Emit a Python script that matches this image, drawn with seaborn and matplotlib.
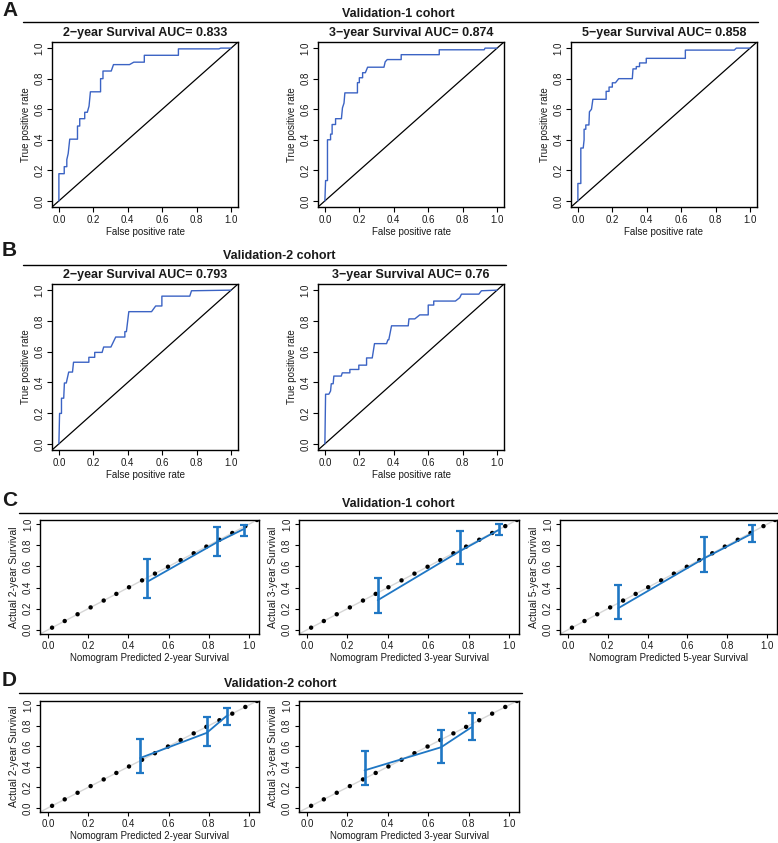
import matplotlib
matplotlib.use("Agg")
import matplotlib.pyplot as plt
from matplotlib.lines import Line2D
import numpy as np
import seaborn as sns

sns.set_theme(style="ticks")
plt.rcParams['font.family'] = ['Liberation Sans', 'DejaVu Sans']

# ---------------- data ----------------
tick_vals = [0.0, 0.2, 0.4, 0.6, 0.8, 1.0]
tick_labels = ["0.0", "0.2", "0.4", "0.6", "0.8", "1.0"]

# ROC curves, Validation-1
a1_fpr = [0, 0, 0.031, 0.031, 0.046, 0.046, 0.054, 0.063, 0.108, 0.108, 0.121, 0.121, 0.15, 0.15, 0.165, 0.175,
          0.183, 0.242, 0.242, 0.256, 0.256, 0.304, 0.317, 0.41, 0.435, 0.496, 0.496, 0.694, 0.694, 0.929, 0.94, 1.0]
a1_tpr = [0, 0.178, 0.178, 0.224, 0.224, 0.27, 0.31, 0.404, 0.404, 0.49, 0.49, 0.538, 0.538, 0.58, 0.58, 0.62,
          0.714, 0.714, 0.80, 0.80, 0.85, 0.85, 0.892, 0.892, 0.908, 0.908, 0.953, 0.953, 0.995, 0.995, 1.0, 1.0]

a2_fpr = [0, 0.004, 0.015, 0.015, 0.033, 0.033, 0.042, 0.042, 0.062, 0.062, 0.096, 0.102, 0.111, 0.116, 0.189, 0.189,
          0.2, 0.2, 0.219, 0.219, 0.235, 0.248, 0.343, 0.35, 0.362, 0.443, 0.443, 0.664, 0.664, 0.925, 0.93, 1.0]
a2_tpr = [0, 0.133, 0.133, 0.40, 0.40, 0.437, 0.437, 0.50, 0.50, 0.538, 0.538, 0.609, 0.64, 0.707, 0.707, 0.774,
          0.774, 0.806, 0.806, 0.839, 0.839, 0.875, 0.875, 0.91, 0.925, 0.925, 0.957, 0.957, 0.989, 0.989, 1.0, 1.0]

a3_fpr = [0, 0, 0.017, 0.017, 0.031, 0.036, 0.036, 0.046, 0.046, 0.064, 0.067, 0.079, 0.087, 0.164, 0.164, 0.181,
          0.181, 0.2, 0.2, 0.218, 0.237, 0.316, 0.32, 0.339, 0.339, 0.358, 0.358, 0.397, 0.397, 0.624, 0.624,
          0.908, 0.92, 1.0]
a3_tpr = [0, 0.114, 0.114, 0.346, 0.346, 0.40, 0.469, 0.469, 0.497, 0.497, 0.583, 0.60, 0.665, 0.665, 0.717, 0.717,
          0.745, 0.745, 0.773, 0.773, 0.80, 0.80, 0.864, 0.864, 0.879, 0.879, 0.903, 0.903, 0.933, 0.933, 0.987,
          0.987, 1.0, 1.0]

# ROC curves, Validation-2
b1_fpr = [0, 0.004, 0.015, 0.015, 0.028, 0.032, 0.043, 0.047, 0.057, 0.079, 0.085, 0.174, 0.174, 0.208, 0.208,
          0.251, 0.26, 0.302, 0.33, 0.383, 0.383, 0.392, 0.406, 0.538, 0.562, 0.598, 0.598, 0.76, 0.77, 1.0]
b1_tpr = [0, 0.198, 0.198, 0.297, 0.297, 0.396, 0.396, 0.417, 0.467, 0.467, 0.531, 0.531, 0.563, 0.563, 0.595,
          0.595, 0.63, 0.63, 0.695, 0.695, 0.73, 0.73, 0.86, 0.86, 0.897, 0.897, 0.961, 0.961, 0.996, 1.0]

b2_fpr = [0, 0.004, 0.023, 0.033, 0.037, 0.048, 0.052, 0.095, 0.101, 0.145, 0.145, 0.197, 0.197, 0.242, 0.242,
          0.275, 0.288, 0.358, 0.366, 0.371, 0.387, 0.484, 0.488, 0.522, 0.551, 0.60, 0.60, 0.632, 0.632, 0.758,
          0.783, 0.793, 0.894, 0.909, 1.0]
b2_tpr = [0, 0.323, 0.323, 0.344, 0.391, 0.391, 0.441, 0.441, 0.462, 0.462, 0.484, 0.484, 0.512, 0.512, 0.559,
          0.559, 0.652, 0.652, 0.677, 0.677, 0.768, 0.768, 0.813, 0.813, 0.839, 0.839, 0.903, 0.903, 0.929, 0.929,
          0.951, 0.974, 0.974, 0.996, 1.0]

# Calibration: reference dots on the ideal line
cal_dots = [0.02, 0.083, 0.147, 0.212, 0.277, 0.34, 0.403, 0.468, 0.532, 0.597, 0.66, 0.725, 0.788, 0.853,
            0.917, 0.982, 1.04]

# Calibration, Validation-1
c1_pred = [0.494, 0.842, 0.975]
c1_obs = [0.455, 0.83, 0.955]
c1_lo = [0.30, 0.70, 0.89]
c1_hi = [0.67, 0.975, 0.995]

c2_pred = [0.35, 0.757, 0.949]
c2_obs = [0.28, 0.745, 0.945]
c2_lo = [0.16, 0.62, 0.90]
c2_hi = [0.495, 0.935, 1.0]

c3_pred = [0.253, 0.682, 0.923]
c3_obs = [0.205, 0.675, 0.91]
c3_lo = [0.105, 0.545, 0.835]
c3_hi = [0.425, 0.88, 0.995]

# Calibration, Validation-2
d1_pred = [0.458, 0.79, 0.889]
d1_obs = [0.485, 0.73, 0.895]
d1_lo = [0.34, 0.60, 0.81]
d1_hi = [0.675, 0.88, 0.975]

d2_pred = [0.285, 0.664, 0.815]
d2_obs = [0.365, 0.59, 0.785]
d2_lo = [0.225, 0.44, 0.66]
d2_hi = [0.55, 0.76, 0.92]

# ---------------- styling ----------------
W, H = 778, 843
ROC_BLUE = "#3b63c4"
CAL_BLUE = "#1f77c4"
TXT = "#1a1a1a"

fig = plt.figure(figsize=(W / 100, H / 100), dpi=100)
fig.patch.set_facecolor("white")


def rect(l, t, r, b):
    return [l / W, 1 - b / H, (r - l) / W, (b - t) / H]


def frame(ax, xlim, ylim, tlen):
    ax.set_xlim(xlim)
    ax.set_ylim(ylim)
    ax.set_xticks(tick_vals)
    ax.set_xticklabels(tick_labels)
    ax.set_yticks(tick_vals)
    ax.set_yticklabels(tick_labels, rotation=90, va='center')
    for s in ax.spines.values():
        s.set_visible(True)
        s.set_linewidth(1.0)
        s.set_color('black')
    ax.tick_params(direction='out', length=tlen, width=0.8, labelsize=7, pad=2,
                   colors='black', labelcolor=TXT)
    ax.grid(False)
    ax.set_facecolor('white')


def header(letter, ly, text, tx, ty, x0, x1, yl):
    fig.text(2 / W, 1 - ly / H, letter, fontsize=15, fontweight='bold', ha='left', va='center', color=TXT)
    fig.text(tx / W, 1 - ty / H, text, fontsize=9, fontweight='bold', ha='center', va='center', color=TXT)
    fig.add_artist(Line2D([x0 / W, x1 / W], [1 - yl / H, 1 - yl / H], color='black', lw=1.0))


def roc_panel(r, title, fpr, tpr):
    ax = fig.add_axes(rect(*r))
    ax.axline((0, 0), (1, 1), color='black', lw=0.9, zorder=2)
    sns.lineplot(x=fpr, y=tpr, sort=False, estimator=None, color=ROC_BLUE, lw=1.0, ax=ax, zorder=3)
    frame(ax, (-0.04, 1.04), (-0.04, 1.04), 3.5)
    ax.set_title(title, fontsize=9, fontweight='bold', pad=4, color=TXT)
    ax.set_xlabel("False positive rate", fontsize=7, labelpad=2, color=TXT)
    ax.set_ylabel("True positive rate", fontsize=7, labelpad=2.5, color=TXT)
    return ax


def cal_panel(r, year, pred, obs, lo, hi):
    ax = fig.add_axes(rect(*r))
    ax.axline((0, 0), (1, 1), color='#d6d6d6', lw=1.0, zorder=1)
    sns.scatterplot(x=cal_dots, y=cal_dots, color='black', s=10, edgecolor='none', ax=ax, zorder=3)
    sns.lineplot(x=pred, y=obs, sort=False, estimator=None, color=CAL_BLUE, lw=1.3, ax=ax, zorder=4)
    p = np.array(pred)
    o = np.array(obs)
    ax.errorbar(p, o, yerr=[o - np.array(lo), np.array(hi) - o], fmt='none', ecolor=CAL_BLUE,
                elinewidth=1.9, capsize=2.6, capthick=1.6, zorder=5)
    frame(ax, (-0.04, 1.05), (-0.04, 1.04), 3)
    ax.set_xlabel(f"Nomogram Predicted {year}-year Survival", fontsize=7, labelpad=1.5, color=TXT)
    ax.set_ylabel(f"Actual {year}-year Survival", fontsize=7.5, labelpad=3, color=TXT)
    return ax


# Panel A
header("A", 10, "Validation-1 cohort", 398, 14, 23, 758, 21.5)
roc_panel((52, 42, 238, 207), "2\u2212year Survival AUC= 0.833", a1_fpr, a1_tpr)
roc_panel((318, 42, 504, 207), "3\u2212year Survival AUC= 0.874", a2_fpr, a2_tpr)
roc_panel((571, 42, 757, 207), "5\u2212year Survival AUC= 0.858", a3_fpr, a3_tpr)

# Panel B
header("B", 250, "Validation-2 cohort", 279, 256, 23, 506, 265)
roc_panel((52, 284, 238, 450), "2\u2212year Survival AUC= 0.793", b1_fpr, b1_tpr)
roc_panel((318, 284, 504, 450), "3\u2212year Survival AUC= 0.76", b2_fpr, b2_tpr)

# Panel C
header("C", 501, "Validation-1 cohort", 398, 504, 19, 777, 513)
cal_panel((40, 520, 259, 634), 2, c1_pred, c1_obs, c1_lo, c1_hi)
cal_panel((299, 520, 519, 634), 3, c2_pred, c2_obs, c2_lo, c2_hi)
cal_panel((560, 520, 777, 634), 5, c3_pred, c3_obs, c3_lo, c3_hi)

# Panel D
header("D", 681, "Validation-2 cohort", 280, 684, 19, 522, 693)
cal_panel((40, 701, 259, 812), 2, d1_pred, d1_obs, d1_lo, d1_hi)
cal_panel((299, 701, 519, 812), 3, d2_pred, d2_obs, d2_lo, d2_hi)

fig.savefig("out.png", dpi=100, facecolor="white")
